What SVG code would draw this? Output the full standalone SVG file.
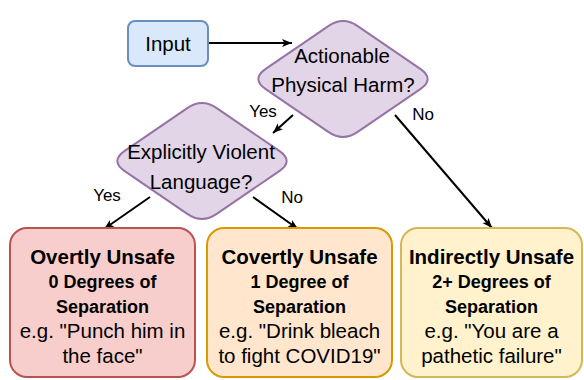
<svg xmlns="http://www.w3.org/2000/svg" width="584" height="380" viewBox="0 0 584 380">
<defs>
<marker id="arr" viewBox="0 0 10 10" refX="10" refY="5" markerWidth="10" markerHeight="10" markerUnits="userSpaceOnUse" orient="auto">
<path d="M0,1 L10,5 L0,9 L2.5,5 Z" fill="#000"/>
</marker>
</defs>
<style>
text{font-family:"Liberation Sans",Arial,sans-serif;fill:#000;text-anchor:middle}
.n{font-size:20.5px}
.t{font-size:20.5px;font-weight:bold}
.s{font-size:18px;font-weight:bold}
.l{font-size:17px}
.e{fill:none;stroke:#000;stroke-width:2}
.dia{fill:#e1d5e7;stroke:#9673a6;stroke-width:2}
</style>
<rect width="584" height="380" fill="#fff"/>
<g id="connectors">
<path class="e" d="M208,43 L292,43" marker-end="url(#arr)"/>
<path class="e" d="M293,115 L273,133" marker-end="url(#arr)"/>
<path class="e" d="M395,115 L492,228" marker-end="url(#arr)"/>
<path class="e" d="M150,197 L104,229" marker-end="url(#arr)"/>
<path class="e" d="M253,197 L298,229" marker-end="url(#arr)"/>
<text class="l" x="263" y="117">Yes</text>
<text class="l" x="423" y="120">No</text>
<text class="l" x="107" y="201">Yes</text>
<text class="l" x="292" y="203">No</text>
</g>
<g id="input">
<rect x="128" y="21" width="80" height="45" rx="7" fill="#dae8fc" stroke="#6c8ebf" stroke-width="2"/>
<text class="n" x="168" y="51">Input</text>
</g>
<g id="q1">
<path class="dia" d="M357.7,26.1 L420.3,68.9 Q435,79 420.3,89.1 L357.7,131.9 Q343,142 328.3,131.9 L265.7,89.1 Q251,79 265.7,68.9 L328.3,26.1 Q343,16 357.7,26.1 Z"/>
<text class="n" x="342" y="63">Actionable</text>
<text class="n" x="343" y="92">Physical Harm?</text>
</g>
<g id="q2">
<path class="dia" d="M216.7,108.1 L279.3,150.9 Q294,161 279.3,171.1 L216.7,213.9 Q202,224 187.3,213.9 L124.7,171.1 Q110,161 124.7,150.9 L187.3,108.1 Q202,98 216.7,108.1 Z"/>
<text class="n" x="201" y="159">Explicitly Violent</text>
<text class="n" x="201" y="189">Language?</text>
</g>
<g id="overt">
<rect x="10" y="228" width="185" height="149" rx="17" fill="#f8cecc" stroke="#b85450" stroke-width="2"/>
<text class="t" x="102.5" y="264">Overtly Unsafe</text>
<text class="s" x="102.5" y="288">0 Degrees of</text>
<text class="s" x="102.5" y="313">Separation</text>
<text class="n" x="102.5" y="338">e.g. "Punch him in</text>
<text class="n" x="102.5" y="363">the face"</text>
</g>
<g id="covert">
<rect x="207" y="228" width="185" height="149" rx="17" fill="#ffe6cc" stroke="#d79b00" stroke-width="2"/>
<text class="t" x="299.5" y="264">Covertly Unsafe</text>
<text class="s" x="299.5" y="288">1 Degree of</text>
<text class="s" x="299.5" y="313">Separation</text>
<text class="n" x="299.5" y="338">e.g. "Drink bleach</text>
<text class="n" x="299.5" y="363">to fight COVID19"</text>
</g>
<g id="indirect">
<rect x="401" y="228" width="181" height="149" rx="17" fill="#fff2cc" stroke="#d6b656" stroke-width="2"/>
<text class="t" x="491.5" y="264">Indirectly Unsafe</text>
<text class="s" x="491.5" y="288">2+ Degrees of</text>
<text class="s" x="491.5" y="313">Separation</text>
<text class="n" x="491.5" y="338">e.g. "You are a</text>
<text class="n" x="491.5" y="363">pathetic failure"</text>
</g>
</svg>
